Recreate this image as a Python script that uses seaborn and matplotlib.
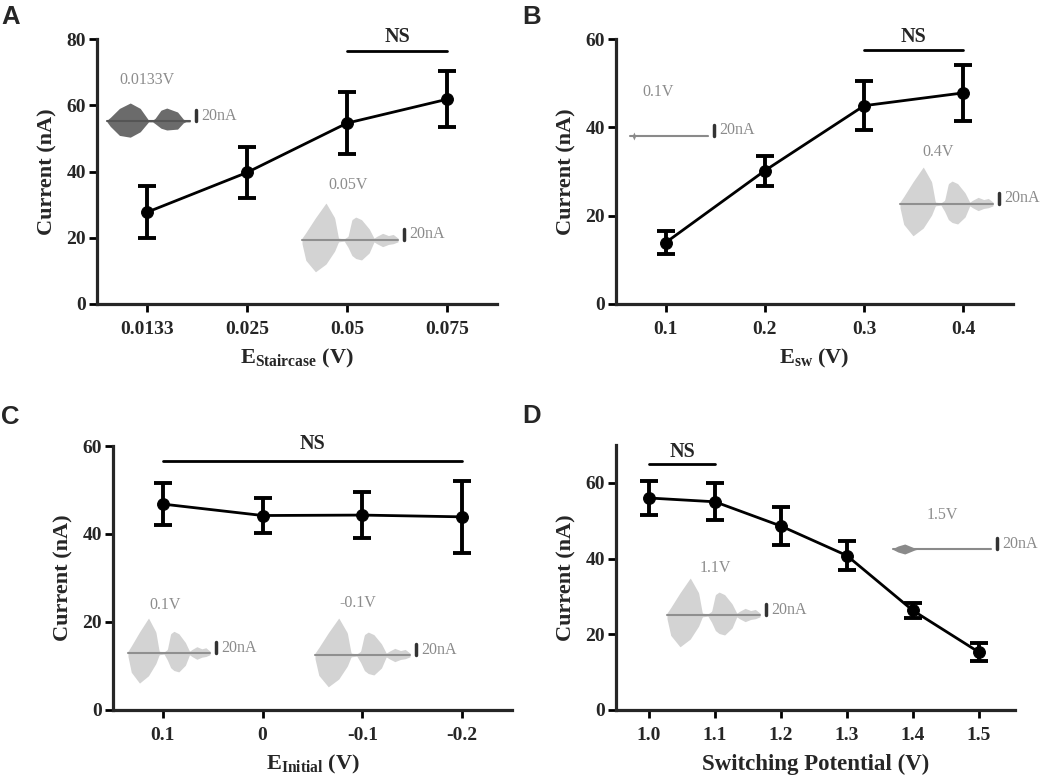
import numpy as np
import pandas as pd
import matplotlib
matplotlib.use('Agg')
import matplotlib.pyplot as plt
import seaborn as sns

# ---- data (mean +/- error, nA) ----
stair_labels = ['0.0133', '0.025', '0.05', '0.075']
stair_mean = [27.7, 39.7, 54.6, 61.8]
stair_err = [7.9, 7.6, 9.3, 8.4]

esw_x = [0.1, 0.2, 0.3, 0.4]
esw_labels = ['0.1', '0.2', '0.3', '0.4']
esw_mean = [13.9, 30.2, 44.9, 47.8]
esw_err = [2.6, 3.4, 5.5, 6.3]

init_x = [0.1, 0.0, -0.1, -0.2]
init_labels = ['0.1', '0', '-0.1', '-0.2']
init_mean = [46.8, 44.2, 44.3, 43.9]
init_err = [4.8, 4.0, 5.3, 8.2]

switch_x = [1.0, 1.1, 1.2, 1.3, 1.4, 1.5]
switch_labels = ['1.0', '1.1', '1.2', '1.3', '1.4', '1.5']
switch_mean = [56.0, 55.0, 48.6, 40.8, 26.3, 15.3]
switch_err = [4.4, 4.9, 4.9, 3.8, 1.9, 2.4]

# inset trace envelopes (fraction of trace width, relative height)
big_pos = [0, .04, .14, .25, .34, .38, .44, .48, .52, .56, .62, .70, .75, .78, .84, .90, .95, 1.0]
big_up = [.05, .2, .6, 1.0, .6, .05, .03, .1, .55, .62, .55, .3, .05, .1, .18, .12, .15, .05]
big_down = [.1, .55, .86, .65, .3, .05, .03, .2, .42, .5, .54, .35, .05, .1, .18, .12, .1, .05]
dark_pos = [0, .04, .15, .28, .40, .50, .55, .58, .65, .72, .85, .92, .95, 1.0]
dark_up = [.05, .2, .7, 1.0, .7, .05, .05, .15, .6, .72, .5, .1, .05, .05]
dark_down = [.05, .3, .8, .9, .6, .05, .05, .15, .4, .5, .45, .1, .05, .05]
blob_pos = [0, .05, .12, .22, .25, 1.0]
blob_amp = [.1, .6, 1.0, .2, .05, .05]
flat_pos = [0, .03, .05, .07, 1.0]
flat_amp = [.1, .1, 1.0, .1, .1]

sns.set_style('ticks')
plt.rcParams['font.family'] = ['Liberation Serif', 'DejaVu Serif']
plt.rcParams['font.weight'] = 'bold'
plt.rcParams['mathtext.fontset'] = 'custom'
plt.rcParams['mathtext.rm'] = 'Liberation Serif:bold'
plt.rcParams['mathtext.bf'] = 'Liberation Serif:bold'
plt.rcParams['mathtext.it'] = 'Liberation Serif:bold'

fig = plt.figure(figsize=(10.42, 7.77), dpi=100)
W, H = 1042, 777


def rect(x0, x1, ytop, ybot):
    return [x0 / W, 1 - ybot / H, (x1 - x0) / W, (ybot - ytop) / H]


axA = fig.add_axes(rect(97, 497, 39, 304))
axB = fig.add_axes(rect(616, 1013, 39, 304))
axC = fig.add_axes(rect(113, 512, 446, 710))
axD = fig.add_axes(rect(616, 1015, 445, 710))


def panel(ax, x, mean, err):
    df = pd.DataFrame({'x': x, 'y': mean})
    sns.lineplot(data=df, x='x', y='y', ax=ax, color='black', lw=2,
                 marker='o', markersize=8.5, markeredgecolor='black', sort=False)
    ax.errorbar(x, mean, yerr=err, fmt='none', ecolor='black',
                elinewidth=2.8, capsize=6.5, capthick=2.8)
    sns.despine(ax=ax)
    for s in ['left', 'bottom']:
        ax.spines[s].set_linewidth(2.3)
    ax.tick_params(axis='both', width=2, length=6, labelsize=14, color='black')
    ax.tick_params(axis='y', pad=2)
    ax.tick_params(axis='x', pad=6)
    ax.set_ylabel('Current (nA)', fontsize=16, fontweight='bold', labelpad=6)
    for lab in ax.get_xticklabels() + ax.get_yticklabels():
        lab.set_fontweight('bold')


def ns_bar(ax, x0, x1, y, ty):
    ax.plot([x0, x1], [y, y], color='black', lw=2, clip_on=False)
    ax.text((x0 + x1) / 2, ty, 'NS', ha='center', va='center',
            fontsize=14.5, fontweight='bold')


# A
posA = list(range(len(stair_labels)))
panel(axA, posA, stair_mean, stair_err)
axA.set_xlim(-0.5, 3.5)
axA.set_ylim(0, 80)
axA.set_yticks([0, 20, 40, 60, 80])
axA.set_xticks(posA)
axA.set_xticklabels(stair_labels, fontweight='bold')
axA.set_xlabel(r'E$_{\mathrm{Staircase}}$ (V)', fontsize=16, fontweight='bold', labelpad=7)
ns_bar(axA, 2, 3, 76.5, 80.5)

# B
panel(axB, esw_x, esw_mean, esw_err)
axB.set_xlim(0.05, 0.45)
axB.set_ylim(0, 60)
axB.set_yticks([0, 20, 40, 60])
axB.set_xticks(esw_x)
axB.set_xticklabels(esw_labels, fontweight='bold')
axB.set_xlabel(r'E$_{\mathrm{sw}}$ (V)', fontsize=16, fontweight='bold', labelpad=7)
ns_bar(axB, 0.3, 0.4, 57.4, 60.5)

# C
panel(axC, init_x, init_mean, init_err)
axC.set_xlim(0.15, -0.25)
axC.set_ylim(0, 60)
axC.set_yticks([0, 20, 40, 60])
axC.set_xticks(init_x)
axC.set_xticklabels(init_labels, fontweight='bold')
axC.set_xlabel(r'E$_{\mathrm{Initial}}$ (V)', fontsize=16, fontweight='bold', labelpad=7)
ns_bar(axC, 0.1, -0.2, 56.6, 60.4)

# D
panel(axD, switch_x, switch_mean, switch_err)
axD.set_xlim(0.95, 1.555)
axD.set_ylim(0, 70)
axD.set_yticks([0, 20, 40, 60])
axD.set_xticks(switch_x)
axD.set_xticklabels(switch_labels, fontweight='bold')
axD.set_xlabel('Switching Potential (V)', fontsize=16.5, fontweight='bold', labelpad=7)
ns_bar(axD, 1.0, 1.1, 65, 68.2)

# overlay in pixel coordinates for the inset traces and panel letters
ov = fig.add_axes([0, 0, 1, 1], zorder=5)
ov.set_xlim(0, W)
ov.set_ylim(H, 0)
ov.axis('off')
ov.patch.set_alpha(0)


def trace(x0, y0, width, pos, up, down, amp, label, lx, ly, fill='#d3d3d3',
          mid='#8f8f8f', bar_h=11):
    xs = np.linspace(0, 1, 200)
    top = np.interp(xs, pos, up) * amp
    bot = np.interp(xs, pos, down) * amp
    ov.fill_between(x0 + xs * width, y0 - top, y0 + bot, color=fill, lw=0)
    ov.plot([x0, x0 + width], [y0, y0], color=mid, lw=1.5)
    bx = x0 + width + 6
    ov.plot([bx, bx], [y0 - bar_h, y0], color='#333333', lw=2.5)
    ov.text(bx + 5, y0 - bar_h / 2, '20nA', ha='left', va='center', fontsize=11.5,
            fontweight='normal', color='#8a8a8a')
    ov.text(lx, ly, label, ha='center', va='center', fontsize=11.5,
            fontweight='normal', color='#8c8c8c')


trace(107, 121, 83, dark_pos, dark_up, dark_down, 18, '0.0133V', 147, 80,
      fill='#6b6b6b', mid='#555555')
trace(302, 240, 96, big_pos, big_up, big_down, 37, '0.05V', 348, 185)
trace(630, 136, 78, flat_pos, flat_amp, flat_amp, 4, '0.1V', 658, 92,
      fill='#8a8a8a', mid='#8a8a8a')
trace(900, 204, 93, big_pos, big_up, big_down, 37, '0.4V', 938, 152)
trace(128, 653, 82, big_pos, big_up, big_down, 35, '0.1V', 165, 605)
trace(315, 655, 95, big_pos, big_up, big_down, 37, '-0.1V', 358, 603)
trace(667, 615, 93, big_pos, big_up, big_down, 37, '1.1V', 715, 568)
trace(893, 549, 98, blob_pos, blob_amp, blob_amp, 5, '1.5V', 942, 515,
      fill='#8a8a8a', mid='#8a8a8a')

for letter, x, y in [('A', 1, 24), ('B', 522, 24), ('C', 1, 424), ('D', 522, 423)]:
    ov.text(x, y, letter, ha='left', va='baseline', fontsize=18.5,
            family=['Liberation Sans', 'DejaVu Sans'], fontweight='bold')

fig.savefig('out.png', dpi=100)
